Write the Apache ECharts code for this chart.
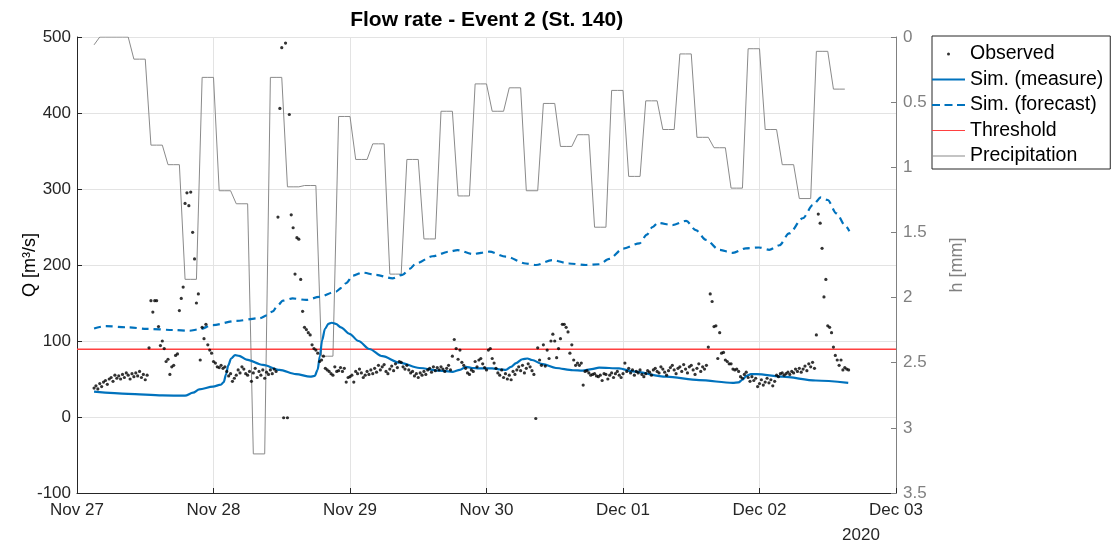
<!DOCTYPE html>
<html>
<head>
<meta charset="utf-8">
<title>Flow rate - Event 2 (St. 140)</title>
<script src="https://cdn.jsdelivr.net/npm/echarts@6/dist/echarts.min.js"></script>
<style>
  html, body { margin: 0; padding: 0; background: #fff; }
  #chart { width: 1112px; height: 545px; }
</style>
</head>
<body>
<div id="chart"></div>
<script>
// ---- data (time in hours from 2020-11-27 00:00) ----
const dayLabels = ['Nov 27', 'Nov 28', 'Nov 29', 'Nov 30', 'Dec 01', 'Dec 02', 'Dec 03'];
const yearLabel = '2020';

// Observed discharge [m3/s], one reading every 20 minutes from hour 3
const obsStartHour = 3;
const obsStepHour = 1 / 3;
const observedQ = [
  38, 41, 37, 44, 40, 46, 48, 43, 50, 52, 47, 55, 51, 54, 50, 56, 52, 58,
  55, 50, 57, 53, 58, 54, 60, 52, 56, 49, 55, 91, 153, 138, 153, 153, 119, 94,
  100, 90, 73, 76, 56, 66, 68, 81, 83, 140, 156, 171, 281, 295, 278, 296, 243, 208,
  150, 162, 75, 118, 103, 122, 95, 88, 84, 73, 71, 66, 65, 68, 64, 66, 60, 54,
  57, 47, 51, 55, 62, 58, 66, 63, 57, 55, 60, 47, 58, 64, 52, 60, 55, 62,
  51, 59, 56, 62, 57, 63, 60, 263, 406, 486, -1, 492, -1, 398, 266, 249, 188, 236,
  234, 181, 139, 118, 115, 111, 108, 95, 90, 88, 84, 73, 75, 80, 64, 62, 60, 57,
  55, 66, 60, 61, 65, 60, 64, 46, 52, 53, 55, 46, 60, 57, 63, 58, 52, 55,
  60, 56, 62, 57, 64, 59, 68, 62, 66, 69, 60, 57, 63, 67, 61, 70, 65, 73,
  72, 66, 63, 68, 62, 58, 60, 54, 57, 52, 58, 55, 60, 56, 62, 64, 59, 66,
  61, 65, 62, 66, 63, 60, 64, 68, 62, 80, 102, 90, 76, 88, 72, 68, 64, 58,
  56, 62, 60, 73, 66, 75, 77, 70, 65, 62, 88, 90, 77, 71, 64, 58, 55, 62,
  52, 57, 50, 55, 49, 60, 56, 62, 66, 61, 68, 58, 64, 70, 66, 61, 56, -2,
  91, 75, 68, 95, 67, 88, 77, 100, 109, 100, 78, 90, 103, 122, 122, 118, 112, 84,
  95, 75, 68, 71, 68, 71, 42, 60, 61, 58, 55, 56, 57, 54, 53, 55, 48, 57,
  56, 50, 55, 58, 52, 57, 60, 55, 52, 57, 71, 60, 64, 58, 62, 55, 60, 58,
  62, 56, 53, 57, 61, 59, 55, 62, 64, 60, 58, 66, 63, 59, 55, 61, 65, 68,
  62, 57, 64, 66, 60, 69, 63, 58, 66, 68, 62, 56, 64, 70, 60, 66, 63, 68,
  92, 162, 152, 119, 120, 77, 111, 84, 85, 75, 73, 70, 70, 63, 62, 63, 60, 53,
  51, 56, 59, 52, 47, 53, 48, 51, 40, 44, 49, 42, 46, 51, 45, 49, 41, 47,
  55, 53, 57, 58, 55, 57, 59, 56, 60, 58, 63, 60, 64, 59, 63, 67, 61, 70,
  66, 72, 64, 108, 267, 255, 222, 158, 181, 120, 118, 111, 92, 81, 75, 68, 75, 62,
  65, 63, 62
];

// Simulated discharge driven by measured rainfall [hour, m3/s]
const simMeasure = [
  [3, 33.3], [9, 30.5], [15, 28.5], [19, 28], [20.4, 32], [21.5, 36.4], [23.9, 40],
  [25.3, 42.5], [25.8, 46], [26.2, 56], [26.6, 68], [27.1, 77], [27.8, 81.5], [28.5, 80.5],
  [29.8, 75.5], [32.7, 68.5], [35.6, 62], [38.5, 56.5], [41.0, 53], [41.8, 54], [42.3, 62],
  [42.7, 80], [43.1, 101], [43.6, 116], [44.2, 122.5], [44.8, 124], [45.5, 122.5],
  [46.4, 118], [47.9, 109.5], [49.5, 100], [51.4, 89.5], [53.7, 80], [56.7, 71.5],
  [60.2, 64.5], [63.7, 61], [66.1, 59.5], [67.3, 62], [68.4, 66], [69.5, 64.5], [70.7, 64],
  [73.0, 64], [74.5, 62.5], [75.4, 62], [76.3, 66], [77.2, 71], [78.3, 76], [79.2, 77],
  [80.0, 75], [81.9, 69.5], [84.2, 64.5], [87.2, 61.5], [88.9, 61], [90.5, 63], [91.8, 65],
  [95.3, 64], [97.7, 60], [103.6, 53], [109.4, 48.5], [115.3, 45], [116.3, 45.5],
  [117.0, 49], [117.7, 54], [118.5, 56.5], [119.5, 56.5], [124.0, 53], [129.9, 48],
  [135.6, 45]
];

// Simulated discharge driven by forecast rainfall [hour, m3/s]
const simForecast = [
  [3, 116.5], [5, 119.5], [9, 118], [12.2, 116], [16.9, 114.5], [19.8, 113.5], [21.5, 115.5],
  [23.9, 121], [28, 126.5], [32.1, 130], [33.5, 134], [34.4, 139], [35.3, 147], [36.2, 153],
  [37.9, 156], [40.3, 154], [42.6, 158], [45.5, 165], [46.5, 170], [47.3, 176], [48.5, 186],
  [50.2, 190], [52.5, 187], [55.5, 182.5], [57.2, 187], [58.5, 195], [59.6, 202],
  [62.5, 211.5], [65.4, 217.5], [66.9, 219.5], [69.6, 214.5], [72.5, 217.5], [75.4, 211],
  [78.9, 202], [80.7, 200], [83.6, 206.5], [86.5, 202], [89.5, 200], [91.8, 201],
  [93.6, 208], [96.0, 221.5], [98.9, 228.5], [100.2, 240], [101.2, 250], [102.1, 255.5],
  [104.7, 252.5], [107.1, 258], [108.8, 246], [110.6, 233], [112.9, 220], [115.3, 216],
  [117.6, 222], [119.9, 223], [121.7, 220], [123.5, 226], [125.2, 241.5], [127.6, 261.5],
  [129.4, 279], [130.8, 289], [132.0, 285.5], [133.5, 268], [135.2, 250.5], [135.8, 244.5]
];

// Alert threshold [m3/s]
const thresholdQ = 89;

// Hourly precipitation [mm] from hour 3
const precipStartHour = 3;
const precipMm = [
  0.06,
  0, 0, 0, 0, 0, 0,
  0.17, 0.17, 0.17, 0.83, 0.83, 0.83, 0.98, 0.98, 0.98, 1.86, 1.86, 1.86,
  0.31, 0.31, 0.31, 1.18, 1.18, 1.18, 1.28, 1.28, 1.28, 3.2, 3.2, 3.2,
  0.31, 0.31, 0.31, 1.15, 1.15, 1.15, 1.14, 1.14, 1.14, 2.45, 2.45, 2.45,
  0.61, 0.61, 0.61, 0.94, 0.94, 0.94, 0.82, 0.82, 0.82, 1.82, 1.82, 1.82,
  0.94, 0.94, 0.94, 1.55, 1.55, 1.55, 0.57, 0.57, 0.57, 1.22, 1.22, 1.22,
  0.36, 0.36, 0.36, 0.57, 0.57, 0.57, 0.39, 0.39, 0.39, 1.18, 1.18, 1.18,
  0.51, 0.51, 0.51, 0.84, 0.84, 0.84, 0.75, 0.75, 0.75, 1.46, 1.46, 1.46,
  0.41, 0.41, 0.41, 1.07, 1.07, 1.07, 0.49, 0.49, 0.49, 0.71, 0.71, 0.71,
  0.13, 0.13, 0.13, 0.77, 0.77, 0.77, 0.85, 0.85, 0.85, 1.16, 1.16, 1.16,
  0.09, 0.09, 0.09, 0.71, 0.71, 0.71, 0.98, 0.98, 0.98, 1.24, 1.24, 1.24,
  0.11, 0.11, 0.11, 0.40, 0.40, 0.40
];

// ---- chart ----
const FONT = '"Liberation Sans", Arial, Helvetica, sans-serif';
const AXIS_DARK = '#262626';
const AXIS_GRAY = '#808080';
const GRID_COLOR = '#e3e3e3';
const BLUE = '#0072BD';
const RED = '#ff4040';
const PRECIP_GRAY = '#8a8a8a';

const observedData = observedQ.map((q, i) => [obsStartHour + i * obsStepHour, q]);
const precipData = precipMm.map((v, i) => [precipStartHour + i, v]);
const hourMax = (dayLabels.length - 1) * 24;

const chart = echarts.init(document.getElementById('chart'), null, { renderer: 'canvas' });

chart.setOption({
  animation: false,
  backgroundColor: '#fff',
  textStyle: { fontFamily: FONT },
  grid: { left: 77, right: 216, top: 37, bottom: 52, outerBoundsMode: 'none' },
  graphic: [
    {
      type: 'text', x: 486.7, y: 20, z: 10,
      style: {
        text: 'Flow rate - Event 2 (St. 140)', align: 'center', verticalAlign: 'middle',
        font: 'bold 21px ' + FONT, fill: '#000'
      }
    },
    {
      type: 'text', x: 861, y: 535, z: 10,
      style: {
        text: yearLabel, align: 'center', verticalAlign: 'middle',
        font: '17px ' + FONT, fill: AXIS_DARK
      }
    }
  ],
  legend: {
    orient: 'vertical',
    left: 932, top: 36,
    padding: [8, 7, 3, 0],
    itemGap: 5.5,
    itemWidth: 33,
    itemHeight: 3,
    backgroundColor: '#fff',
    borderColor: AXIS_DARK,
    borderWidth: 1,
    borderRadius: 0,
    selectedMode: false,
    textStyle: { fontSize: 19.5, color: '#000', fontFamily: FONT, lineHeight: 20 },
    data: [
      { name: 'Observed', icon: 'circle', itemStyle: { color: '#000', borderWidth: 0 } },
      { name: 'Sim. (measure)', icon: 'path://M0,0H33V2H0Z', itemStyle: { color: BLUE, borderWidth: 0 } },
      { name: 'Sim. (forecast)', icon: 'path://M0,0H8V2H0Z M12.5,0H20.5V2H12.5Z M25,0H33V2H25Z', itemStyle: { color: BLUE, borderWidth: 0 } },
      { name: 'Threshold', icon: 'path://M0,0H33V1H0Z', itemStyle: { color: RED, borderWidth: 0 } },
      { name: 'Precipitation', icon: 'path://M0,0H33V1H0Z', itemStyle: { color: PRECIP_GRAY, borderWidth: 0 } }
    ]
  },
  xAxis: {
    type: 'value',
    min: 0, max: hourMax, interval: 24,
    axisLine: { show: true, onZero: false, lineStyle: { color: AXIS_DARK, width: 1 } },
    axisTick: { show: true, inside: true, length: 5, lineStyle: { color: AXIS_DARK } },
    axisLabel: {
      margin: 9, fontSize: 17, color: AXIS_DARK, fontFamily: FONT,
      formatter: (v) => dayLabels[Math.round(v / 24)]
    },
    splitLine: { show: true, lineStyle: { color: GRID_COLOR, width: 1 } }
  },
  yAxis: [
    {
      type: 'value',
      position: 'left',
      min: -100, max: 500, interval: 100,
      name: 'Q [m³/s]',
      nameLocation: 'middle',
      nameRotate: 90,
      nameGap: 38,
      nameMoveOverlap: false,
      nameTextStyle: { fontSize: 18, color: '#000', fontFamily: FONT },
      axisLine: { show: true, onZero: false, lineStyle: { color: AXIS_DARK, width: 1 } },
      axisTick: { show: true, inside: true, length: 5, lineStyle: { color: AXIS_DARK } },
      axisLabel: { margin: 6, fontSize: 17, color: AXIS_DARK, fontFamily: FONT },
      splitLine: { show: true, lineStyle: { color: GRID_COLOR, width: 1 } }
    },
    {
      type: 'value',
      position: 'right',
      min: 0, max: 3.5, interval: 0.5,
      inverse: true,
      name: 'h [mm]',
      nameLocation: 'middle',
      nameRotate: 90,
      nameGap: 52,
      nameMoveOverlap: false,
      nameTextStyle: { fontSize: 18, color: AXIS_GRAY, fontFamily: FONT },
      axisLine: { show: true, onZero: false, lineStyle: { color: AXIS_GRAY, width: 1 } },
      axisTick: { show: true, inside: true, length: 5, lineStyle: { color: AXIS_GRAY } },
      axisLabel: { margin: 7, fontSize: 17, color: AXIS_GRAY, fontFamily: FONT },
      splitLine: { show: false }
    }
  ],
  series: [
    {
      name: 'Observed',
      type: 'scatter',
      data: observedData,
      symbol: 'circle',
      symbolSize: 3.2,
      itemStyle: { color: '#000' },
      z: 6
    },
    {
      name: 'Sim. (measure)',
      type: 'line',
      data: simMeasure,
      symbol: 'none',
      smooth: 0.3,
      smoothMonotone: 'x',
      lineStyle: { color: BLUE, width: 2.2 },
      itemStyle: { color: BLUE },
      z: 5
    },
    {
      name: 'Sim. (forecast)',
      type: 'line',
      data: simForecast,
      symbol: 'none',
      smooth: 0.3,
      smoothMonotone: 'x',
      lineStyle: { color: BLUE, width: 2.2, type: [7, 5] },
      itemStyle: { color: BLUE },
      z: 5
    },
    {
      name: 'Threshold',
      type: 'line',
      data: [[0, thresholdQ], [hourMax, thresholdQ]],
      symbol: 'none',
      lineStyle: { color: RED, width: 1.5 },
      itemStyle: { color: RED },
      z: 4
    },
    {
      name: 'Precipitation',
      type: 'line',
      yAxisIndex: 1,
      data: precipData,
      symbol: 'none',
      lineStyle: { color: PRECIP_GRAY, width: 1 },
      itemStyle: { color: PRECIP_GRAY },
      z: 3
    }
  ]
});
</script>
</body>
</html>
